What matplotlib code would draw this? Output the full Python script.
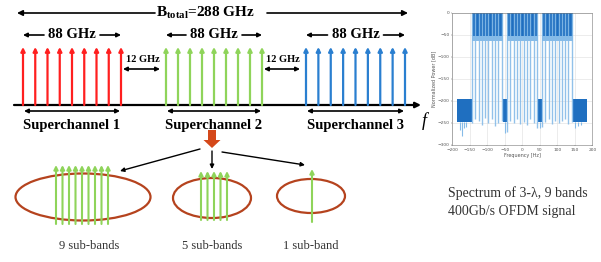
import numpy as np
import matplotlib
matplotlib.use("Agg")
import matplotlib.pyplot as plt
from matplotlib.patches import Ellipse, FancyArrow

plt.rcParams['font.family'] = ['Liberation Serif', 'DejaVu Serif']
plt.rcParams['mathtext.fontset'] = 'custom'
plt.rcParams['mathtext.rm'] = 'Liberation Serif:bold'
plt.rcParams['mathtext.bf'] = 'Liberation Serif:bold'

# ---------------- Daten ----------------
# Superkanaele (Schema)
sc_names = ["Superchannel 1", "Superchannel 2", "Superchannel 3"]
sc_colors = ["#ff1f1f", "#8fd45a", "#2a7fd0"]
n_carriers = 9
sc_bw_label = "88 GHz"
gap_label = "12 GHz"
total_label = r"B$_{\mathbf{total}}$=288 GHz"

# Unterbaender
sub_counts = [9, 5, 1]
sub_labels = ["9 sub-bands", "5 sub-bands", "1 sub-band"]

# Spektrum
band_edges = [(-145, -55), (-45, 45), (55, 145)]
noise_edges = [(-186, -145), (-56, -45), (45, 55), (145, 186)]
signal_top = 0
signal_floor = -52
signal_shade = -63
noise_top = -195
noise_bottom = -248
dip_pos = [-143, -134, -125, -116, -106, -97, -87, -78, -68, -59,
           -43, -34, -25, -15, -6, 4, 13, 23, 33, 43,
           57, 66, 75, 85, 94, 104, 113, 123, 132, 142]
dip_depth = [-250, -240, -245, -255, -238, -250, -242, -256, -250, -245,
             -270, -245, -250, -240, -252, -248, -255, -240, -250, -262,
             -258, -248, -240, -252, -245, -250, -246, -240, -252, -248]
spike_pos = [-178, -172, -166, -160, -48, 50, 152, 160, 168]
spike_depth = [-265, -280, -262, -258, -272, -262, -262, -256, -255]
xticks_spec = [-200, -150, -100, -50, 0, 50, 100, 150, 200]
yticks_spec = [0, -50, -100, -150, -200, -250, -300]

# ---------------- Layout (Pixel) ----------------
fig = plt.figure(figsize=(6.01, 2.62), dpi=100)
ax = fig.add_axes([0, 0, 1, 1])
ax.set_xlim(0, 601)
ax.set_ylim(262, 0)
ax.axis('off')

sc_left = [23, 166, 306]
sc_right = [121, 262, 405]
base_y = 105
top_y = 47


def pfeil(x0, y0, x1, y1, color='black', lw=1.5, ms=8, style='-|>'):
    ax.annotate('', xy=(x1, y1), xytext=(x0, y0),
                arrowprops=dict(arrowstyle=style, color=color, lw=lw,
                                mutation_scale=ms, shrinkA=0, shrinkB=0))


# B_total
ax.text(206, 13, total_label, ha='center', va='center', fontsize=11, fontweight='bold')
pfeil(155, 13, 17, 13, lw=1.2)
pfeil(267, 13, 408, 13, lw=1.2)

# Basislinie
pfeil(14, base_y, 421, base_y, lw=1.6)
ax.text(424, 121, "f", ha='center', va='center', fontsize=13, style='italic')

for i in range(3):
    xs = np.linspace(sc_left[i], sc_right[i], n_carriers)
    for x in xs:
        pfeil(x, base_y, x, top_y, color=sc_colors[i], lw=1.6, ms=6)
    mid = (sc_left[i] + sc_right[i]) / 2
    ax.text(mid, 35, sc_bw_label, ha='center', va='center', fontsize=10.5, fontweight='bold')
    pfeil(mid - 28, 35, sc_left[i], 35, lw=1.2, ms=6)
    pfeil(mid + 28, 35, sc_right[i], 35, lw=1.2, ms=6)
    pfeil(sc_left[i] + 1, 111, sc_right[i] - 1, 111, lw=1.2, ms=6, style='<|-|>')
    ax.text(mid, 125, sc_names[i], ha='center', va='center', fontsize=10.5, fontweight='bold')

# 12 GHz Luecken
for i in range(2):
    g0 = sc_right[i] + 2
    g1 = sc_left[i + 1] - 6
    ax.text((g0 + g1) / 2 + 1, 59, gap_label, ha='center', va='center', fontsize=7.5, fontweight='bold')
    pfeil(g0, 69, g1, 69, lw=1.2, ms=6, style='<|-|>')

# Blockpfeil
ax.add_patch(FancyArrow(212, 130, 0, 10, width=8, head_width=17, head_length=8,
                        length_includes_head=False, color='#d4481a', lw=0))

# Verzweigungspfeile
pfeil(200, 149, 120, 171, lw=1.0, ms=6)
pfeil(212, 151, 212, 169, lw=1.0, ms=6)
pfeil(222, 152, 305, 165, lw=1.0, ms=6)

# Ellipsen mit Unterbaendern
ell_cx = [83, 212, 311]
ell_cy = [197, 198, 196]
ell_w = [135, 78, 68]
ell_h = [47, 40, 34]
sub_x0 = [56, 201, 312]
sub_x1 = [108, 227, 312]
sub_top = [165, 171, 169]
sub_bot = [224, 220, 222]
for i in range(3):
    ax.add_patch(Ellipse((ell_cx[i], ell_cy[i]), ell_w[i], ell_h[i], fill=False,
                         edgecolor='#b5431e', lw=1.6))
    for x in np.linspace(sub_x0[i], sub_x1[i], sub_counts[i]):
        pfeil(x, sub_bot[i], x, sub_top[i], color='#8fd45a', lw=1.5, ms=6)
    ax.text(ell_cx[i] + (6 if i == 0 else 0), 246, sub_labels[i], ha='center', va='center',
            fontsize=9, color='#333333')

# Beschreibung rechts
ax.text(448, 193, "Spectrum of 3-\u03bb, 9 bands", ha='left', va='center', fontsize=10, color='#333333')
ax.text(448, 212, "400Gb/s OFDM signal", ha='left', va='center', fontsize=10, color='#333333')

# ---------------- Spektrum ----------------
sx = fig.add_axes([452.3 / 601, (262 - 145) / 262, 140 / 601, 132 / 262])
dark = '#1f6fc0'
light = '#86bbe8'
for (a, b) in noise_edges:
    sx.fill_between([a, b], noise_bottom, noise_top, color=dark, lw=0)
for (a, b) in band_edges:
    sx.fill_between([a, b], signal_shade, signal_floor, color=light, lw=0)
    sx.fill_between([a, b], signal_floor, signal_top, color=dark, lw=0)
sx.vlines(dip_pos, dip_depth, signal_top, color=light, lw=1.0, alpha=0.9)
sx.vlines(spike_pos, spike_depth, noise_bottom, color=light, lw=0.8)
sx.set_xlim(-200, 200)
sx.set_ylim(-300, 0)
sx.set_xticks(xticks_spec)
sx.set_yticks(yticks_spec)
sx.tick_params(labelsize=3.2, length=1, width=0.3, pad=1, colors='#555555')
sx.grid(True, color='#dddddd', lw=0.4)
sx.set_axisbelow(True)
for s in sx.spines.values():
    s.set_linewidth(0.4)
    s.set_color('#777777')
sx.set_xlabel("Frequency [Hz]", fontsize=3.5, labelpad=1, color='#555555', family='DejaVu Sans')
sx.set_ylabel("Normalized Power [dB]", fontsize=3.5, labelpad=1, color='#555555', family='DejaVu Sans')
for lab in sx.get_xticklabels() + sx.get_yticklabels():
    lab.set_family('DejaVu Sans')

fig.savefig("out.png", dpi=100)
